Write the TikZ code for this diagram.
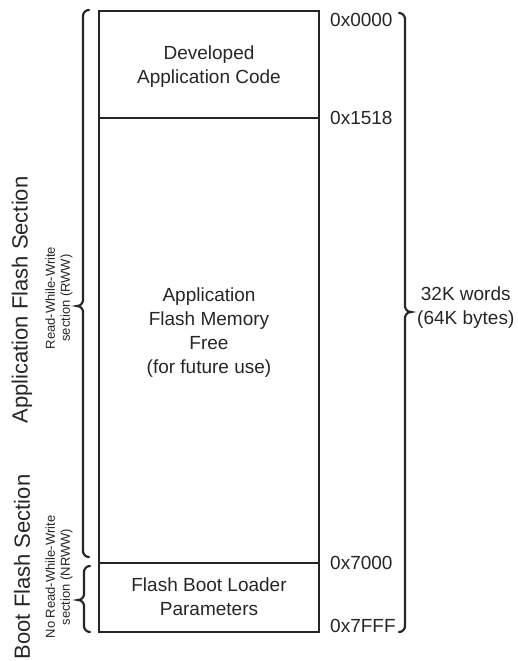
\documentclass[tikz,border=0pt]{standalone}
\usepackage{fontspec}
\setmainfont{Liberation Sans}
\definecolor{ink}{HTML}{262626}
\begin{document}
\begin{tikzpicture}[x=1pt,y=-1pt,
  boxline/.style={draw=ink,line width=1.4pt},
  bracestyle/.style={draw=ink,line width=2.2pt,line cap=round},
  boxtext/.style={text=ink,align=center,font=\fontsize{19}{24}\selectfont,inner sep=0pt},
  addr/.style={text=ink,anchor=west,font=\fontsize{19}{24}\selectfont,inner sep=0pt},
  bigside/.style={text=ink,rotate=90,font=\fontsize{22}{26}\selectfont,inner sep=0pt},
  smallside/.style={text=ink,rotate=90,align=center,font=\fontsize{13}{15}\selectfont,inner sep=0pt}]
\useasboundingbox (0,0) rectangle (518,661);
% memory box
\draw[boxline] (99,11) rectangle (319,632);
\coordinate (d1l) at (99,118); \coordinate (d1r) at (319,118);
\coordinate (d2l) at (99,563); \coordinate (d2r) at (319,563);
\draw[boxline] (d1l) -- (d1r);
\draw[boxline] (d2l) -- (d2r);
% box texts
\node[boxtext] (dev) at (209,67) {Developed\\Application Code};
\node[boxtext] (free) at (209,333) {Application\\Flash Memory\\Free\\(for future use)};
\node[boxtext] (boot) at (209,597) {Flash Boot Loader\\Parameters};
% addresses
\node[addr] (a0) at (330,20) {0x0000};
\node[addr] (a1) at (330,118) {0x1518};
\node[addr] (a2) at (330,563) {0x7000};
\node[addr] (a3) at (330,626) {0x7FFF};
% right brace
\draw[bracestyle] (399,13) to[out=0,in=90] (405,19) -- (405,306) to[out=-90,in=180] (411,312) to[out=180,in=90] (405,318) -- (405,626) to[out=-90,in=0] (399,632);
\node[text=ink,align=center,font=\fontsize{19}{24}\selectfont,inner sep=0pt,anchor=west] (size) at (417,308) {32K words\\(64K bytes)};
% left big brace
\draw[bracestyle] (89,10) to[out=180,in=90] (83,16) -- (83,300) to[out=-90,in=0] (77,306) to[out=0,in=90] (83,312) -- (83,551) to[out=-90,in=180] (89,557);
% left small brace
\draw[bracestyle] (90,566) to[out=180,in=90] (84,572) -- (84,594) to[out=-90,in=0] (78,600) to[out=0,in=90] (84,606) -- (84,626) to[out=-90,in=180] (90,632);
% side labels
\node[bigside] (appsec) at (22,300) {Application Flash Section};
\node[smallside] (rww) at (59,298) {Read-While-Write\\section (RWW)};
\node[bigside] (bootsec) at (22,567) {Boot Flash Section};
\node[smallside] (nrww) at (59,577) {No Read-While-Write\\section (NRWW)};
\end{tikzpicture}
\end{document}
